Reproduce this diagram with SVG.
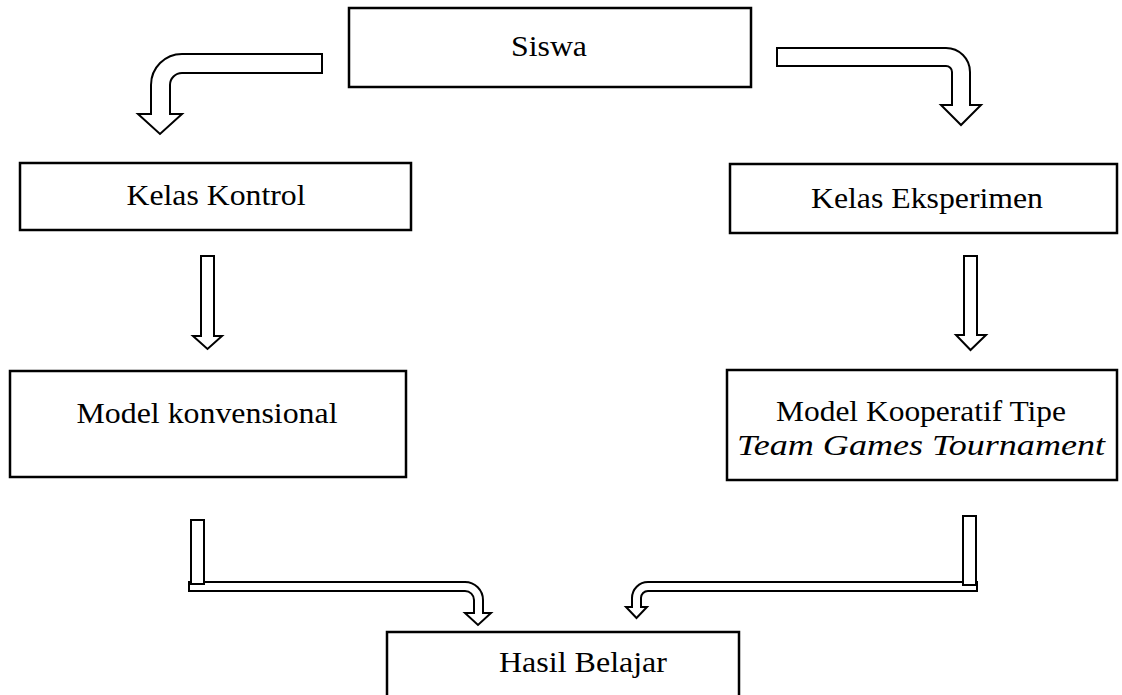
<svg xmlns="http://www.w3.org/2000/svg" width="1122" height="695" viewBox="0 0 1122 695">
<style>
.box{fill:#fff;stroke:#000;stroke-width:2.5}
.arr{fill:#fff;stroke:#000;stroke-width:2;stroke-linejoin:miter}
.i{font-style:italic}
</style>
<rect width="1122" height="695" fill="#fff"/>
<g id="connectors">
<path class="arr" d="M322,54 L182,54 A31,31 0 0 0 151,85 L151,114 L138,114 L160,134 L182,114 L170,114 L170,85 A12,12 0 0 1 182,73 L322,73 Z"/>
<path class="arr" d="M777,48 L946,48 A24,24 0 0 1 970,72 L970,105 L981,105 L961,125 L941,105 L952,105 L952,72 A6,6 0 0 0 946,66 L777,66 Z"/>
<path class="arr" d="M201,256 L214,256 L214,336 L222,336 L207.5,349 L193,336 L201,336 Z"/>
<path class="arr" d="M964,256 L977,256 L977,335 L986,335 L970.5,350 L956,335 L964,335 Z"/>
<path class="arr" d="M189,582 L465,582 A18,18 0 0 1 483,600 L483,613 L491,613 L478,625 L465,613 L474,613 L474,600 A9,9 0 0 0 465,591 L189,591 Z"/>
<rect class="arr" x="191" y="520" width="13" height="64"/>
<path class="arr" d="M977,582 L648,582 A16,16 0 0 0 632,598 L632,607 L626,607 L636.5,618 L647,607 L641,607 L641,598 A7,7 0 0 1 648,591 L977,591 Z"/>
<rect class="arr" x="963" y="516" width="13" height="69"/>
</g>
<g font-family="'Liberation Serif', 'Times New Roman', 'DejaVu Serif', serif" font-size="30" fill="#000" text-anchor="middle" lengthAdjust="spacingAndGlyphs">
<g id="siswa">
<rect class="box" x="349" y="8" width="402" height="79"/>
<text x="549" y="56" textLength="76" lengthAdjust="spacingAndGlyphs">Siswa</text>
</g>
<g id="kelas-kontrol">
<rect class="box" x="20" y="163" width="391" height="67"/>
<text x="216" y="205" textLength="179" lengthAdjust="spacingAndGlyphs">Kelas Kontrol</text>
</g>
<g id="kelas-eksperimen">
<rect class="box" x="730" y="164" width="387" height="69"/>
<text x="927" y="208" textLength="232" lengthAdjust="spacingAndGlyphs">Kelas Eksperimen</text>
</g>
<g id="model-konvensional">
<rect class="box" x="10" y="371" width="396" height="106"/>
<text x="207" y="423" textLength="261" lengthAdjust="spacingAndGlyphs">Model konvensional</text>
</g>
<g id="model-kooperatif">
<rect class="box" x="727" y="370" width="390" height="110"/>
<text x="921" y="421" textLength="290" lengthAdjust="spacingAndGlyphs">Model Kooperatif Tipe</text>
<text class="i" x="921" y="455" textLength="368" lengthAdjust="spacingAndGlyphs">Team Games Tournament</text>
</g>
<g id="hasil-belajar">
<rect class="box" x="387" y="632" width="352" height="70"/>
<text x="583" y="672" textLength="168" lengthAdjust="spacingAndGlyphs">Hasil Belajar</text>
</g>
</g>
</svg>
